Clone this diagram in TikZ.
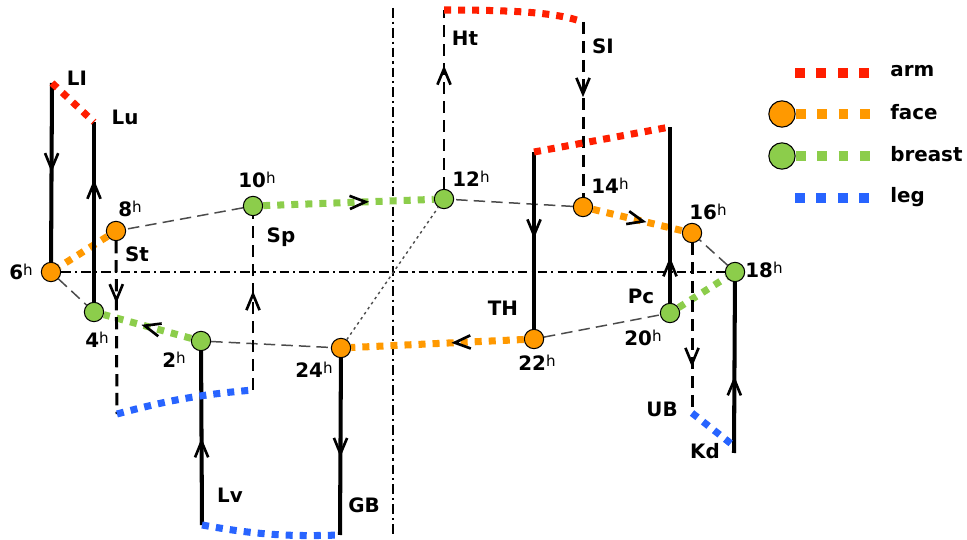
\documentclass[tikz,border=0pt]{standalone}
\usepackage{fontspec}
\setmainfont{DejaVu Sans}
\usetikzlibrary{arrows.meta,decorations.markings,positioning}
\definecolor{ArmRed}{RGB}{255,30,0}
\definecolor{FaceOrange}{RGB}{255,153,0}
\definecolor{BreastGreen}{RGB}{140,205,75}
\definecolor{LegBlue}{RGB}{40,100,255}
\definecolor{OrbitGray}{RGB}{75,75,75}
\newcommand{\hrs}[1]{#1\raisebox{2.4pt}{\fontsize{8.6}{9}\selectfont\mdseries h}}
\tikzset{
  hour/.style={circle,draw,line width=0.6pt,inner sep=0pt,minimum size=11pt},
  facept/.style={hour,fill=FaceOrange},
  breastpt/.style={hour,fill=BreastGreen},
  flow/.style={line width=4pt,dash pattern=on 4pt off 4pt},
  keyflow/.style={line width=5.6pt,dash pattern=on 5.6pt off 6.6pt},
  orbit/.style={OrbitGray,line width=0.85pt,dash pattern=on 6.5pt off 3.5pt},
  axis/.style={line width=0.6pt,dash pattern=on 5.5pt off 2.3pt on 1.2pt off 2.3pt},
  yang/.style={line width=2.3pt},
  yin/.style={line width=1.7pt,dash pattern=on 7pt off 3.8pt},
  midarrow/.style={postaction={decorate,decoration={markings,
    mark=at position #1 with {\arrow[black]{Straight Barb[length=9pt,width=7.5pt,line width=1.5pt]}}}}},
  txt/.style={inner sep=0pt}
}

\begin{document}
\begin{tikzpicture}[x=0.02cm,y=-0.02cm,font=\bfseries\fontsize{11.3}{13}\selectfont]
  \useasboundingbox (0,0) rectangle (967,540);
  % hour points on the orbit
  \node[facept]   (h6)  at (51,272)  {};
  \node[breastpt] (h4)  at (94,312)  {};
  \node[breastpt] (h2)  at (201,341) {};
  \node[facept]   (h24) at (341,348) {};
  \node[facept]   (h22) at (534,339) {};
  \node[breastpt] (h20) at (670,313) {};
  \node[breastpt] (h18) at (735,272) {};
  \node[facept]   (h16) at (692,233) {};
  \node[facept]   (h14) at (583,207) {};
  \node[breastpt] (h12) at (444,199) {};
  \node[breastpt] (h10) at (253,206) {};
  \node[facept]   (h8)  at (116,231) {};
  % free ends of the meridians
  \coordinate (LItop) at (52,83);
  \coordinate (Lutop) at (94,122);
  \coordinate (Stbot) at (117,414);
  \coordinate (Spbot) at (253,390);
  \coordinate (Lvbot) at (202,525);
  \coordinate (GBbot) at (340,535);
  \coordinate (Httop) at (444,10);
  \coordinate (SItop) at (583,22);
  \coordinate (THtop) at (534,152);
  \coordinate (Pctop) at (670,127);
  \coordinate (UBbot) at (692,413);
  \coordinate (Kdbot) at (734,453);
  \coordinate (Kdleg) at (734,446);
  \coordinate (axtop) at (393,8);
  \coordinate (axbot) at (393,537);

  % axes
  \draw[axis] (axtop) -- (axbot);
  \draw[axis] (h6) -- (h18);
  \draw[OrbitGray,line width=0.8pt,dash pattern=on 1.5pt off 2pt] (h24) -- (h12);

  % orbit
  \draw[orbit] (h6) -- (h4);
  \draw[flow,BreastGreen,midarrow=0.57] (h2) -- (h4);
  \draw[orbit] (h2) -- (h24);
  \draw[flow,FaceOrange,midarrow=0.42] (h22) -- (h24);
  \draw[orbit] (h22) -- (h20);
  \draw[flow,BreastGreen] (h20) -- (h18);
  \draw[orbit] (h18) -- (h16);
  \draw[flow,FaceOrange,midarrow=0.6] (h14) -- (h16);
  \draw[orbit] (h14) -- (h12);
  \draw[flow,BreastGreen,midarrow=0.62] (h10) -- (h12);
  \draw[orbit] (h10) -- (h8);
  \draw[flow,FaceOrange] (h8) -- (h6);

  % meridians
  \draw[yang,midarrow=0.5]  (LItop) -- (h6);
  \draw[yang,midarrow=0.68] (h4) -- (Lutop);
  \draw[yin,midarrow=0.36]  (h8) -- (Stbot);
  \draw[yin,midarrow=0.57]  (Spbot) -- (h10);
  \draw[yang,midarrow=0.5]  (Lvbot) -- (h2);
  \draw[yang,midarrow=0.56] (h24) -- (GBbot);
  \draw[yin,midarrow=0.69]  (h12) -- (Httop);
  \draw[yin,midarrow=0.43]  (SItop) -- (h14);
  \draw[yang,midarrow=0.49] (THtop) -- (h22);
  \draw[yang,midarrow=0.26] (h20) -- (Pctop);
  \draw[yin,midarrow=0.73]  (h16) -- (UBbot);
  \draw[yang,midarrow=0.45] (Kdbot) -- (h18);

  % arm and leg links
  \draw[flow,ArmRed] (LItop) -- (Lutop);
  \draw[flow,ArmRed] (Httop) .. controls +(75,0) and +(-25,-9) .. (SItop);
  \draw[flow,ArmRed] (THtop) -- (Pctop);
  \draw[flow,LegBlue] (Stbot) to[bend left=5] (Spbot);
  \draw[flow,LegBlue] (Lvbot) to[bend right=6] (GBbot);
  \draw[flow,LegBlue] (UBbot) -- (Kdleg);

  % meridian names
  \node[txt] (tLI) at (77,78)   {LI};
  \node[txt] (tLu) at (125,117) {Lu};
  \node[txt] (tSt) at (137,254) {St};
  \node[txt] (tSp) at (281,237) {Sp};
  \node[txt] (tLv) at (230,495) {Lv};
  \node[txt] (tGB) at (364,505) {GB};
  \node[txt] (tHt) at (465,38)  {Ht};
  \node[txt] (tSI) at (603,46)  {SI};
  \node[txt] (tTH) at (503,308) {TH};
  \node[txt] (tPc) at (641,296) {Pc};
  \node[txt] (tUB) at (662,409) {UB};
  \node[txt] (tKd) at (705,451) {Kd};

  % hours
  \node[txt] (t6)  at (21,272)  {\hrs{6}};
  \node[txt] (t4)  at (97,340)  {\hrs{4}};
  \node[txt] (t2)  at (174,360) {\hrs{2}};
  \node[txt] (t24) at (314,370) {\hrs{24}};
  \node[txt] (t22) at (537,363) {\hrs{22}};
  \node[txt] (t20) at (643,338) {\hrs{20}};
  \node[txt] (t18) at (764,270) {\hrs{18}};
  \node[txt] (t16) at (708,212) {\hrs{16}};
  \node[txt] (t14) at (610,186) {\hrs{14}};
  \node[txt] (t12) at (471,179) {\hrs{12}};
  \node[txt] (t10) at (257,180) {\hrs{10}};
  \node[txt] (t8)  at (130,209) {\hrs{8}};

  % legend
  \coordinate (karmA) at (795,73);
  \coordinate (karmB) at (870,73);
  \draw[keyflow,ArmRed] (karmA) -- (karmB);
  \node[txt,anchor=west] (tarm) at (890,71) {arm};
  \node[facept,minimum size=15pt] (kface) at (782,114) {};
  \coordinate (kfaceB) at (870,114);
  \draw[keyflow,FaceOrange] (kface) -- (kfaceB);
  \node[txt,anchor=west] (tface) at (890,112) {face};
  \node[breastpt,minimum size=15pt] (kbreast) at (782,156) {};
  \coordinate (kbreastB) at (870,156);
  \draw[keyflow,BreastGreen] (kbreast) -- (kbreastB);
  \node[txt,anchor=west] (tbreast) at (890,154) {breast};
  \coordinate (klegA) at (795,198);
  \coordinate (klegB) at (870,198);
  \draw[keyflow,LegBlue] (klegA) -- (klegB);
  \node[txt,anchor=west] (tleg) at (890,197) {leg};
\end{tikzpicture}
\end{document}
